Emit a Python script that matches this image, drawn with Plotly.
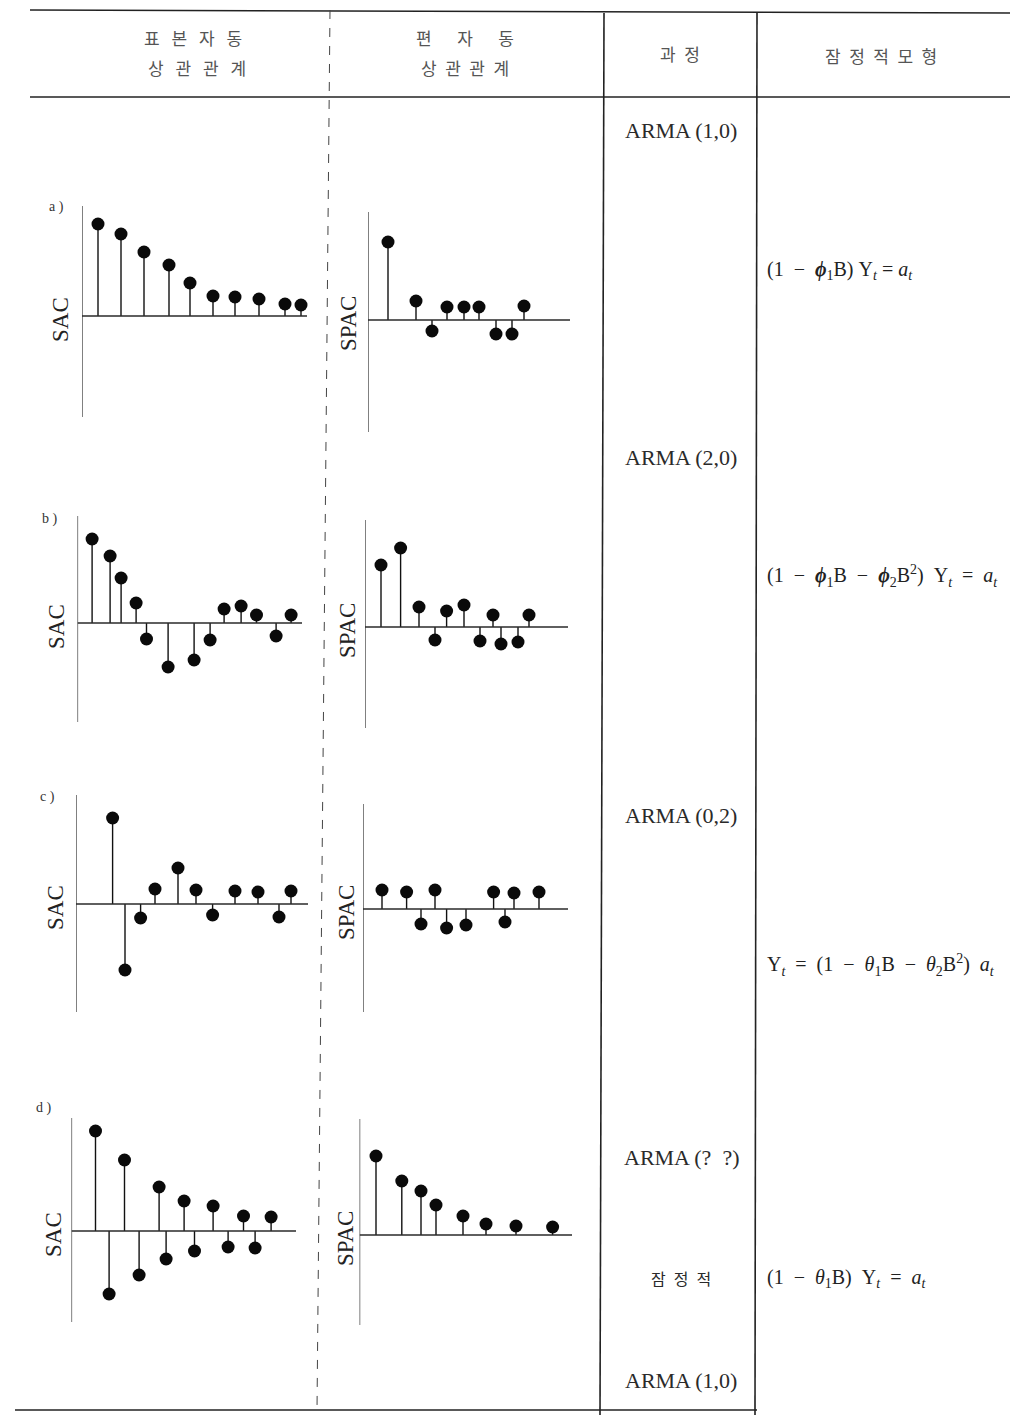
import plotly.graph_objects as go

W, H = 1010, 1415

# ---------------- data ----------------
# lag positions along each panel's horizontal axis, and correlation values
a_sac_lag = [0.8, 1.95, 3.1, 4.35, 5.4, 6.55, 7.65, 8.85, 10.15, 10.95]
a_sac_val = [0.92, 0.82, 0.64, 0.51, 0.33, 0.20, 0.19, 0.17, 0.12, 0.11]
a_spac_lag = [1.0, 2.4, 3.2, 3.95, 4.8, 5.55, 6.4, 7.2, 7.8]
a_spac_val = [0.78, 0.19, -0.11, 0.13, 0.13, 0.13, -0.14, -0.14, 0.14]

b_sac_lag = [0.73, 1.63, 2.18, 2.93, 3.45, 4.53, 5.83, 6.63, 7.33, 8.18, 8.95, 9.93, 10.68]
b_sac_val = [0.84, 0.67, 0.45, 0.20, -0.16, -0.44, -0.37, -0.17, 0.14, 0.17, 0.08, -0.13, 0.08]
b_spac_lag = [0.8, 1.78, 2.7, 3.5, 4.08, 4.95, 5.75, 6.4, 6.8, 7.65, 8.2]
b_spac_val = [0.62, 0.79, 0.20, -0.13, 0.16, 0.22, -0.14, 0.12, -0.17, -0.15, 0.12]

c_sac_lag = [1.83, 2.45, 3.23, 3.95, 5.1, 6.0, 6.83, 7.95, 9.1, 10.15, 10.75]
c_sac_val = [0.86, -0.66, -0.14, 0.15, 0.36, 0.14, -0.11, 0.13, 0.12, -0.13, 0.13]
c_spac_lag = [0.95, 2.18, 2.9, 3.6, 4.18, 5.15, 6.53, 7.1, 7.55, 8.8]
c_spac_val = [0.19, 0.17, -0.15, 0.19, -0.19, -0.16, 0.17, -0.13, 0.16, 0.17]

d_sac_lag = [1.2, 1.88, 2.65, 3.38, 4.38, 4.73, 5.63, 6.15, 7.08, 7.83, 8.6, 9.18, 9.98]
d_sac_val = [1.00, -0.63, 0.71, -0.44, 0.44, -0.28, 0.30, -0.20, 0.25, -0.16, 0.15, -0.17, 0.14]
d_spac_lag = [0.82, 2.11, 3.07, 3.82, 5.17, 6.32, 7.82, 9.65]
d_spac_val = [0.79, 0.54, 0.44, 0.30, 0.19, 0.11, 0.09, 0.08]

EN = "\u2002"
TH = "\u2009"
EM = "\u2003"
header_row1 = [(EN + TH).join("표본자동"), (EM + EN).join("편자동"), EN.join("과정"), (EN).join("잠정적모형")]
header_row2 = [(EN + TH).join("상관관계"), (EN).join("상관관계")]
row_letters = ["a )", "b )", "c )", "d )"]
process_labels = ["ARMA (1,0)", "ARMA (2,0)", "ARMA (0,2)", "ARMA (?  ?)", EN.join("잠정적"), "ARMA (1,0)"]

PHI = "<b><i>ϕ</i></b>"
TH_ = "<i>θ</i>"
YT = "Y<sub><i>t</i></sub>"
AT = "<i>a<sub>t</sub></i>"
model_labels = [
    "(1" + EN + "−" + EN + PHI + "<sub>1</sub>B) " + YT + " = " + AT,
    EN.join(["(1", "−", PHI + "<sub>1</sub>B", "−", PHI + "<sub>2</sub>B<sup>2</sup>)", YT, "=", AT]),
    EN.join([YT, "=", "(1", "−", TH_ + "<sub>1</sub>B", "−", TH_ + "<sub>2</sub>B<sup>2</sup>)", AT]),
    EN.join(["(1", "−", TH_ + "<sub>1</sub>B)", YT, "=", AT]),
]

# ---------------- layout geometry (pixels) ----------------
PX_PER_UNIT_Y = 100.0
PX_PER_LAG = 20.0

panels = [
    # lag, val, label, x0, x1, ytop, ybot, baseline, label_x
    (a_sac_lag, a_sac_val, "SAC", 82, 307, 206, 417, 316, 60),
    (a_spac_lag, a_spac_val, "SPAC", 368, 570, 212, 432, 320, 348),
    (b_sac_lag, b_sac_val, "SAC", 77.5, 302, 516, 722, 623, 57),
    (b_spac_lag, b_spac_val, "SPAC", 365, 568, 520, 728, 627, 347),
    (c_sac_lag, c_sac_val, "SAC", 76, 308, 795, 1012, 904, 55),
    (c_spac_lag, c_spac_val, "SPAC", 363, 568, 804, 1012, 909, 346),
    (d_sac_lag, d_sac_val, "SAC", 71.5, 296, 1118, 1322, 1231, 53),
    (d_spac_lag, d_spac_val, "SPAC", 359.6, 572, 1119, 1325, 1235, 345),
]

def px(x):
    return x / W

def py(y):
    return 1 - y / H

fig = go.Figure()
shapes = []
annotations = []
layout_axes = {}

SERIF = "Liberation Serif, Times New Roman, serif"
CJK = "Noto Sans CJK KR, sans-serif"

for i, (lag, val, lab, x0, x1, ytop, ybot, base, lx) in enumerate(panels):
    k = i + 1
    xa = "x" if k == 1 else f"x{k}"
    ya = "y" if k == 1 else f"y{k}"
    xmax = (x1 - x0) / PX_PER_LAG
    ymax = (base - ytop) / PX_PER_UNIT_Y
    ymin = -(ybot - base) / PX_PER_UNIT_Y
    layout_axes["xaxis" if k == 1 else f"xaxis{k}"] = dict(
        domain=[px(x0), px(x1)], range=[0, xmax], visible=False, anchor=ya)
    layout_axes["yaxis" if k == 1 else f"yaxis{k}"] = dict(
        domain=[py(ybot), py(ytop)], range=[ymin, ymax], visible=False, anchor=xa)

    shapes.append(dict(type="line", xref=xa, yref=ya, x0=0, x1=0, y0=ymin, y1=ymax,
                       line=dict(color="#2a2a2a", width=1.2)))
    shapes.append(dict(type="line", xref=xa, yref=ya, x0=0, x1=xmax, y0=0, y1=0,
                       line=dict(color="#2a2a2a", width=1.4)))

    sx, sy = [], []
    for p, v in zip(lag, val):
        sx += [p, p, None]
        sy += [0, v, None]
    fig.add_trace(go.Scatter(x=sx, y=sy, mode="lines", xaxis=xa, yaxis=ya,
                             line=dict(color="#111", width=1.4), showlegend=False,
                             hoverinfo="skip", cliponaxis=False))
    fig.add_trace(go.Scatter(x=lag, y=val, mode="markers", xaxis=xa, yaxis=ya,
                             marker=dict(color="#0a0a0a", size=13), showlegend=False,
                             cliponaxis=False))

    annotations.append(dict(xref="paper", yref="paper", x=px(lx), y=py(base + 4),
                            text=lab, textangle=-90, showarrow=False,
                            font=dict(family=SERIF, size=23, color="#222"),
                            xanchor="center", yanchor="middle"))

# row letters
for t, (x, y) in zip(row_letters, [(56, 207), (50, 519), (47, 797), (44, 1108)]):
    annotations.append(dict(xref="paper", yref="paper", x=px(x), y=py(y), text=t,
                            showarrow=False, font=dict(family=SERIF, size=14, color="#333"),
                            xanchor="center", yanchor="middle"))

# headers
for t, (x, y) in zip(header_row1, [(193, 38), (465, 38), (680, 53), (881, 55)]):
    annotations.append(dict(xref="paper", yref="paper", x=px(x), y=py(y), text=t,
                            showarrow=False, font=dict(family=CJK, size=17, color="#555"),
                            xanchor="center", yanchor="middle"))
for t, (x, y) in zip(header_row2, [(197, 68), (465, 68)]):
    annotations.append(dict(xref="paper", yref="paper", x=px(x), y=py(y), text=t,
                            showarrow=False, font=dict(family=CJK, size=17, color="#555"),
                            xanchor="center", yanchor="middle"))

# process column
for t, y in zip(process_labels, [131, 457, 815, 1157, 1278, 1380]):
    cjk = "잠" in t
    annotations.append(dict(xref="paper", yref="paper", x=px(681), y=py(y), text=t,
                            showarrow=False,
                            font=dict(family=CJK if cjk else SERIF, size=16 if cjk else 22,
                                      color="#2a2a2a"),
                            xanchor="center", yanchor="middle"))

# model column
for t, y in zip(model_labels, [270, 576, 965, 1278]):
    annotations.append(dict(xref="paper", yref="paper", x=px(765), y=py(y), text=t,
                            showarrow=False, font=dict(family=SERIF, size=20, color="#222"),
                            xanchor="left", yanchor="middle"))

# table rules
def pline(x0, y0, x1, y1, color="#222", width=1.3, dash=None):
    d = dict(type="line", xref="paper", yref="paper", x0=px(x0), y0=py(y0),
             x1=px(x1), y1=py(y1), line=dict(color=color, width=width))
    if dash:
        d["line"]["dash"] = dash
    shapes.append(d)

pline(30, 10, 1010, 13, width=1.4)
pline(30, 97, 1010, 97, width=1.4)
pline(15, 1410, 757, 1410, width=1.4)
pline(330, 10, 317, 1410, color="#444", width=1.0, dash="dash")
pline(604, 13, 600, 1415, width=1.6)
pline(757, 13, 755, 1415, width=1.6)

fig.update_layout(
    width=W, height=H, margin=dict(l=0, r=0, t=0, b=0),
    paper_bgcolor="white", plot_bgcolor="rgba(0,0,0,0)",
    shapes=shapes, annotations=annotations, showlegend=False,
    **layout_axes,
)

fig.write_html("out.html", config={"displayModeBar": False},
               post_script="document.body.style.margin='0';")
